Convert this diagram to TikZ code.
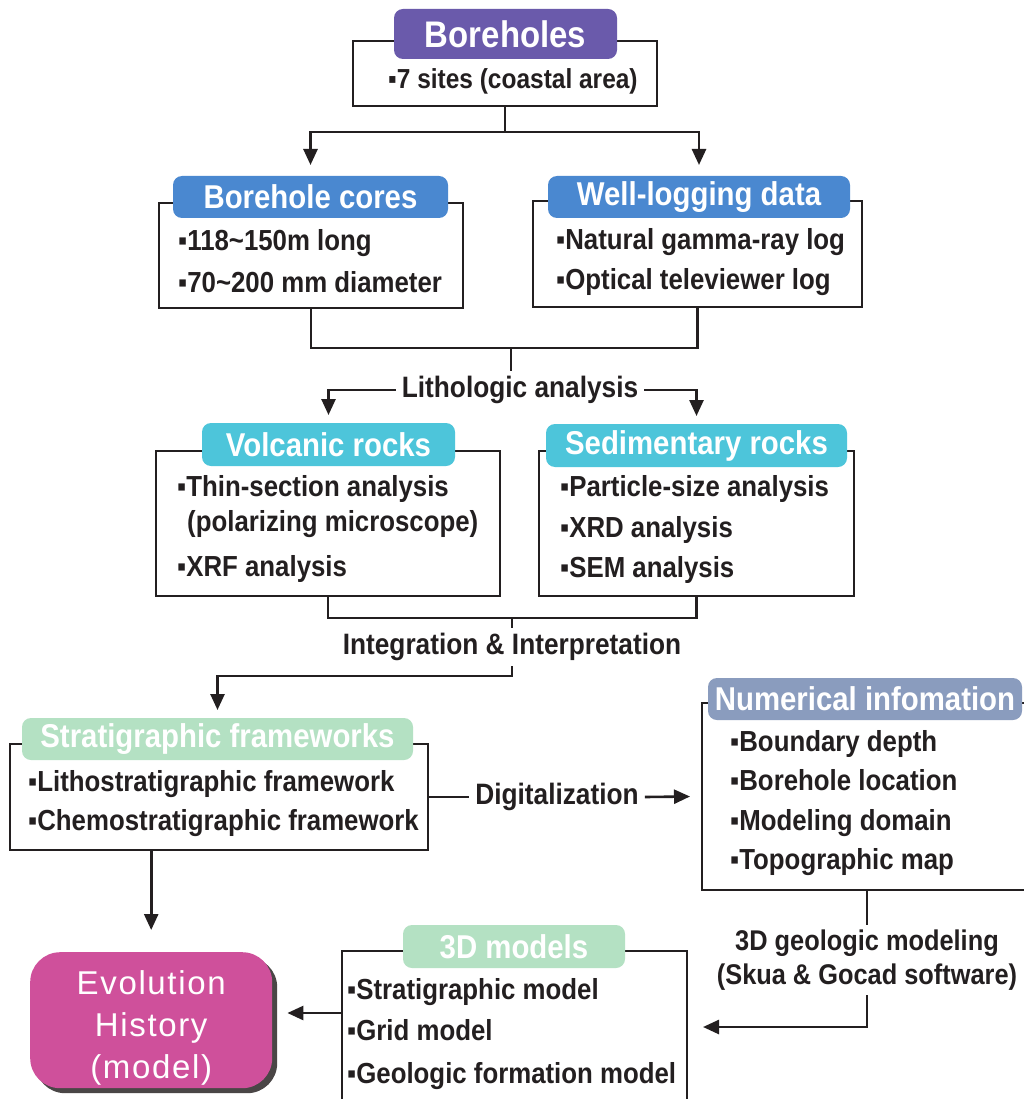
\documentclass[tikz,border=0pt]{standalone}
\usepackage{fontspec}
\setmainfont{Liberation Sans}[FakeStretch=0.89]
\newfontfamily\evofont{Liberation Sans}[LetterSpace=5]
\usetikzlibrary{arrows.meta,shadows}
\definecolor{ink}{HTML}{231F20}
\definecolor{bhpurple}{HTML}{6A5AAB}
\definecolor{coreblue}{HTML}{4A88D0}
\definecolor{rockcyan}{HTML}{4DC5DA}
\definecolor{stratgreen}{HTML}{B4E1C3}
\definecolor{numgray}{HTML}{8A9CBE}
\definecolor{evopink}{HTML}{CF509B}
\definecolor{shadowgray}{HTML}{4A4646}
\tikzset{
	box/.style={draw=ink, line width=2.6pt, anchor=north west, inner sep=0pt, outer sep=0pt},
	headtag/.style={fill=#1, rounded corners=9pt, text=white, anchor=north west, inner sep=0pt, outer sep=0pt, font=\bfseries\fontsize{33}{36}\selectfont},
	item/.style={anchor=base west, inner sep=0pt, text=ink, font=\bfseries\fontsize{29}{31}\selectfont},
	lbl/.style={inner xsep=6pt, inner ysep=5pt, text=ink, align=center, font=\bfseries\fontsize{29.5}{34}\selectfont},
	wire/.style={draw=ink, line width=2.6pt},
	arr/.style={wire, -{Triangle[length=16pt,width=14pt]}}
}

\begin{document}
\begin{tikzpicture}[x=1pt, y=-1pt]
			%%%%% START %%%%%
			\fill[white] (0,0) rectangle (1024,1099);
			\useasboundingbox (0,0) rectangle (1024,1099);
			
			% boreholes
			\node[box, minimum width=304pt, minimum height=65pt] (bh) at (353,41) {};
			\node[headtag=bhpurple, minimum width=223pt, minimum height=50pt, font=\bfseries\fontsize{37}{40}\selectfont] (bhtag) at (394,9) {Boreholes};
			\node[item, font=\bfseries\fontsize{27.5}{30}\selectfont] (bh1) at (388,89) {▪7 sites (coastal area)};
			
			% cores and logging
			\node[box, minimum width=304pt, minimum height=105pt] (bc) at (159,203) {};
			\node[headtag=coreblue, minimum width=275pt, minimum height=42pt] (bctag) at (173,176) {Borehole cores};
			\node[item] (bc1) at (178,251) {▪118\textasciitilde150m long};
			\node[item] (bc2) at (178,292) {▪70\textasciitilde200 mm diameter};
			
			\node[box, minimum width=329pt, minimum height=106pt] (wl) at (533,201) {};
			\node[headtag=coreblue, minimum width=302pt, minimum height=42pt] (wltag) at (548,176) {Well-logging data};
			\node[item] (wl1) at (556,250) {▪Natural gamma-ray log};
			\node[item] (wl2) at (556,289) {▪Optical televiewer log};
			
			% rocks
			\node[box, minimum width=344pt, minimum height=145pt] (vr) at (156,451) {};
			\node[headtag=rockcyan, minimum width=253pt, minimum height=43pt] (vrtag) at (202,423) {Volcanic rocks};
			\node[item] (vr1) at (177,496) {▪Thin-section analysis};
			\node[item] (vr2) at (187,531) {(polarizing microscope)};
			\node[item] (vr3) at (177,576) {▪XRF analysis};
			
			\node[box, minimum width=315pt, minimum height=145pt] (sr) at (539,451) {};
			\node[headtag=rockcyan, minimum width=301pt, minimum height=43pt] (srtag) at (546,424) {Sedimentary rocks};
			\node[item] (sr1) at (560,496) {▪Particle-size analysis};
			\node[item] (sr2) at (560,537) {▪XRD analysis};
			\node[item] (sr3) at (560,577) {▪SEM analysis};
			
			% frameworks
			\node[box, minimum width=418pt, minimum height=106pt] (sf) at (10,744) {};
			\node[headtag=stratgreen, minimum width=391pt, minimum height=42pt] (sftag) at (22,718) {Stratigraphic frameworks};
			\node[item] (sf1) at (28,791) {▪Lithostratigraphic framework};
			\node[item] (sf2) at (28,830) {▪Chemostratigraphic framework};
			
			\node[box, minimum width=330pt, minimum height=187pt] (ni) at (702,703) {};
			\node[headtag=numgray, minimum width=314pt, minimum height=42pt] (nitag) at (708,678) {Numerical infomation};
			\node[item] (ni1) at (730,751) {▪Boundary depth};
			\node[item] (ni2) at (730,790) {▪Borehole location};
			\node[item] (ni3) at (730,830) {▪Modeling domain};
			\node[item] (ni4) at (730,869) {▪Topographic map};
			
			% models
			\node[box, minimum width=345pt, minimum height=170pt] (md) at (342,951) {};
			\node[headtag=stratgreen, minimum width=222pt, minimum height=43pt] (mdtag) at (403,925) {3D models};
			\node[item] (md1) at (347,999) {▪Stratigraphic model};
			\node[item] (md2) at (347,1040) {▪Grid model};
			\node[item] (md3) at (347,1083) {▪Geologic formation model};
			
			\node[fill=evopink, rounded corners=30pt, anchor=north west, minimum width=242pt, minimum height=136pt, drop shadow={shadow xshift=5pt, shadow yshift=-5pt, fill=shadowgray, opacity=1}] (evo) at (30,952) {};
			\node[text=white, align=center, font=\evofont\fontsize{33}{42}\selectfont] (evotxt) at ([yshift=-8pt]evo.center) {Evolution\\History\\(model)};
			
			% labels
			\coordinate (modlpos) at (0,960);
			\node[lbl] (litho) at (520,390) {Lithologic analysis};
			\node[lbl] (integ) at (512,647) {Integration \& Interpretation};
			\node[lbl] (digit) at (557,797) {Digitalization};
			\node[lbl, font=\bfseries\fontsize{28.5}{34}\selectfont] (modl) at (ni.south |- modlpos) {3D geologic modeling\\(Skua \& Gocad software)};
			
			\coordinate (bhfork) at (505,132);
			\coordinate (rjoin) at (511,348);
			\coordinate (ijoin) at (512,618);
			\coordinate (ibend) at (512,676);
			\coordinate (mtip) at (703,1027);
			\coordinate (mdout) at (342,1013);
			
			% connectors
			\draw[wire] (bh.south) -- (bh.south |- bhfork);
			\draw[arr] (bh.south |- bhfork) -| ([yshift=11pt]bctag.north);
			\draw[arr] (bh.south |- bhfork) -| ([yshift=11pt]wltag.north);
			
			\draw[wire] (bc.south) -- ++(0,40) -| (wl.south);
			\draw[wire] (rjoin) -- (rjoin |- litho.north);
			\draw[arr] (litho.west) -| ([yshift=8pt]vrtag.north);
			\draw[arr] (litho.east) -| ([yshift=8pt]srtag.north);
			
			\draw[wire] (vr.south) -- ++(0,22) -| (sr.south);
			\draw[wire] (ijoin) -- (ijoin |- integ.north);
			\draw[arr] (integ.south) -- (integ.south |- ibend) -| ([yshift=8pt]sftag.north);
			
			\draw[wire] (sf.east) -- (digit.west);
			\draw[arr] (digit.east) -- ([xshift=-12pt]ni.west);
			
			\draw[wire] (ni.south) -- (modl.north);
			\draw[arr] (modl.south) |- (mtip);
			\draw[arr] (mdout) -- ([xshift=15pt]evo.east |- mdout);
			\draw[arr] (sf.south -| evo.north) -- ([yshift=22pt]evo.north);
			
			%%%%% END %%%%%
\end{tikzpicture}
\end{document}
